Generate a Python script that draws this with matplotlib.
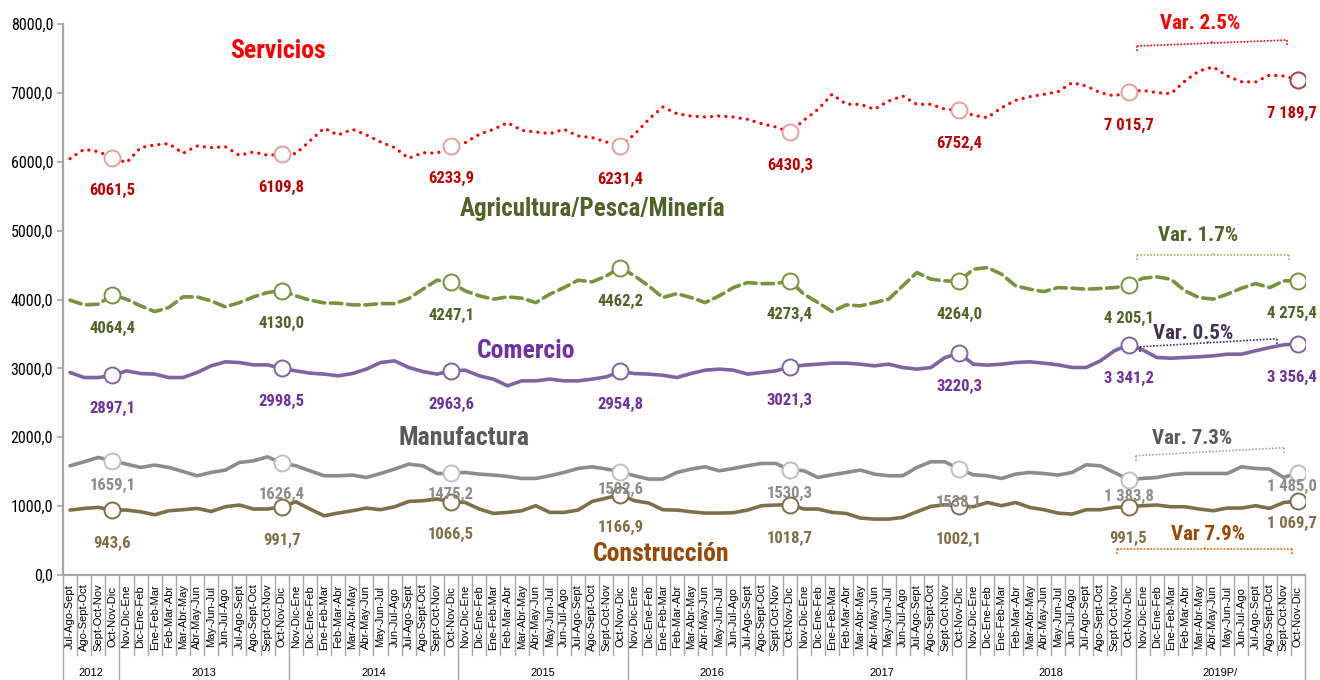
import matplotlib
matplotlib.use("Agg")
import matplotlib.pyplot as plt
from matplotlib.transforms import blended_transform_factory

NARROW = ["Roboto Condensed", "Liberation Sans", "DejaVu Sans"]
plt.rcParams["font.family"] = NARROW

# ---- data -------------------------------------------------------------
years = ["2012", "2013", "2014", "2015", "2016", "2017", "2018", "2019P/"]
year_sizes = [4, 12, 12, 12, 12, 12, 12, 12]
quarter_cycle = ["Nov-Dic-Ene", "Dic-Ene-Feb", "Ene-Feb-Mar", "Feb-Mar-Abr",
                 "Mar-Abr-May", "Abr-May-Jun", "May-Jun-Jul", "Jun-Jul-Ago",
                 "Jul-Ago-Sept", "Ago-Sept-Oct", "Sept-Oct-Nov", "Oct-Nov-Dic"]
periods = quarter_cycle[8:] + quarter_cycle * 7

servicios = [6045, 6181, 6147, 6061.5, 5987, 6205, 6244, 6263, 6123, 6229, 6205, 6219,
             6094, 6142, 6094, 6109.8, 6118, 6302, 6486, 6389, 6471, 6389, 6287, 6205,
             6051, 6132, 6123, 6233.9, 6277, 6399, 6471, 6567, 6457, 6432, 6408, 6471,
             6374, 6350, 6287, 6231.4, 6399, 6616, 6795, 6698, 6664, 6650, 6664, 6650,
             6616, 6553, 6505, 6430.3, 6602, 6762, 6979, 6834, 6834, 6762, 6882, 6955,
             6834, 6834, 6762, 6752.4, 6675, 6640, 6785, 6892, 6945, 6979, 7017, 7148,
             7100, 7003, 6955, 7015.7, 7037, 7003, 6988, 7172, 7318, 7376, 7245, 7162,
             7158, 7260, 7245, 7189.7]
agricultura = [3990, 3922, 3932, 4064.4, 4005, 3908, 3825, 3883, 4038, 4038, 3980, 3893,
               3955, 4038, 4101, 4130.0, 4053, 3990, 3951, 3946, 3922, 3922, 3941, 3941,
               4014, 4150, 4280, 4247.1, 4125, 4053, 4005, 4038, 4019, 3955, 4077, 4173,
               4280, 4256, 4343, 4462.2, 4343, 4198, 4028, 4086, 4028, 3955, 4053, 4173,
               4246, 4231, 4231, 4273.4, 4077, 3955, 3825, 3922, 3908, 3955, 4005, 4198,
               4391, 4295, 4270, 4264.0, 4440, 4463, 4368, 4198, 4150, 4115, 4173, 4164,
               4150, 4160, 4173, 4205.1, 4309, 4328, 4295, 4125, 4028, 4005, 4077, 4164,
               4231, 4173, 4270, 4275.4]
comercio = [2940, 2867, 2867, 2897.1, 2964, 2925, 2917, 2867, 2867, 2940, 3037, 3095,
            3085, 3051, 3051, 2998.5, 2964, 2931, 2917, 2892, 2925, 2989, 3085, 3109,
            3013, 2954, 2917, 2963.6, 2974, 2892, 2844, 2747, 2819, 2819, 2844, 2819,
            2819, 2844, 2877, 2954.8, 2925, 2917, 2900, 2867, 2925, 2974, 2989, 2974,
            2917, 2940, 2964, 3021.3, 3047, 3061, 3076, 3076, 3061, 3037, 3061, 3013,
            2989, 3013, 3158, 3220.3, 3061, 3047, 3061, 3085, 3095, 3076, 3051, 3013,
            3013, 3109, 3255, 3341.2, 3270, 3158, 3148, 3158, 3168, 3182, 3206, 3206,
            3255, 3303, 3342, 3356.4]
manufactura = [1586, 1644, 1707, 1659.1, 1610, 1562, 1596, 1562, 1503, 1441, 1489, 1523,
               1634, 1658, 1716, 1626.4, 1586, 1513, 1441, 1441, 1451, 1416, 1474, 1538,
               1610, 1586, 1474, 1475.2, 1489, 1465, 1451, 1431, 1402, 1402, 1441, 1489,
               1547, 1571, 1538, 1502.6, 1441, 1393, 1393, 1489, 1538, 1571, 1513, 1547,
               1586, 1620, 1620, 1530.3, 1513, 1416, 1455, 1489, 1523, 1465, 1441, 1441,
               1562, 1644, 1644, 1538.1, 1455, 1441, 1402, 1465, 1489, 1474, 1451, 1489,
               1600, 1586, 1489, 1383.8, 1402, 1416, 1455, 1474, 1474, 1474, 1474, 1571,
               1547, 1538, 1416, 1485.0]
construccion = [943, 967, 981, 943.6, 943, 918, 875, 933, 948, 967, 923, 991,
                1016, 958, 958, 991.7, 1063, 958, 860, 899, 933, 972, 948, 991,
                1068, 1078, 1103, 1066.5, 1053, 958, 894, 909, 933, 1006, 909, 909,
                943, 1068, 1117, 1166.9, 1078, 1045, 948, 943, 918, 899, 899, 904,
                943, 1006, 1016, 1018.7, 958, 958, 909, 894, 827, 812, 812, 836,
                918, 996, 1020, 1002.1, 991, 1053, 1006, 1053, 981, 948, 899, 884,
                948, 948, 981, 991.5, 1006, 1016, 991, 991, 958, 933, 972, 972,
                1006, 967, 1053, 1069.7]

serv_labels = ["6061,5", "6109,8", "6233,9", "6231,4", "6430,3", "6752,4", "7 015,7", "7 189,7"]
agri_labels = ["4064,4", "4130,0", "4247,1", "4462,2", "4273,4", "4264,0", "4 205,1", "4 275,4"]
com_labels = ["2897,1", "2998,5", "2963,6", "2954,8", "3021,3", "3220,3", "3 341,2", "3 356,4"]
man_labels = ["1659,1", "1626,4", "1475,2", "1502,6", "1530,3", "1538,1", "1 383,8", "1 485,0"]
cons_labels = ["943,6", "991,7", "1066,5", "1166,9", "1018,7", "1002,1", "991,5", "1 069,7"]

# ---- styling ----------------------------------------------------------
marks = list(range(3, len(periods), 12))
x = list(range(len(periods)))

fig = plt.figure(figsize=(13.2, 6.8), dpi=100)
ax = fig.add_axes([0.0477, 0.1544, 0.9409, 0.8103])
ax.set_xlim(-0.5, len(periods) - 0.5)
ax.set_ylim(0, 8000)


def draw_series(vals, labels, color, ls, lw, mec, lcolor, label_dy=None, last_mec=None):
    ax.plot(x, vals, color=color, ls=ls, lw=lw, dash_capstyle="round",
            solid_capstyle="round", zorder=3)
    ax.plot([x[i] for i in marks], [vals[i] for i in marks], ls="none", marker="o",
            ms=11.5, mfc="white", mec=mec, mew=1.4, zorder=4)
    if last_mec:
        ax.plot([x[marks[-1]]], [vals[marks[-1]]], ls="none", marker="o", ms=11.5,
                mfc="white", mec=last_mec, mew=1.4, zorder=5)
    for k, (i, txt) in enumerate(zip(marks, labels)):
        dy = -24 if label_dy is None else label_dy[k]
        dx = -4 if i == marks[-1] else 0
        ax.annotate(txt, (x[i], vals[i]), xytext=(dx, dy), textcoords="offset points",
                    ha="center", va="center", fontsize=12, fontweight="bold",
                    color=lcolor, zorder=6)


draw_series(servicios, serv_labels, "#FF0000", (0, (0.05, 2.2)), 2.3, "#E3A09E", "#C00000",
            last_mec="#B24545")
draw_series(agricultura, agri_labels, "#77933C", (0, (3.2, 1.6)), 2.6, "#77933C", "#4F6228")
draw_series(comercio, com_labels, "#8064A2", "-", 2.6, "#8064A2", "#7030A0")
draw_series(manufactura, man_labels, "#8C8C8C", "-", 2.6, "#BFBFBF", "#8C8C8C",
            label_dy=[-18, -23, -15, -13, -17, -24, -12, -10])
draw_series(construccion, cons_labels, "#7F6F47", "-", 2.6, "#7F6F47", "#7F6F47",
            label_dy=[-24, -24, -24, -24, -24, -24, -23, -16])

# sector titles
title_kw = dict(ha="center", va="center", fontweight="bold", zorder=7)
ax.text(14.7, 7608, "Servicios", color="#FF0000", fontsize=18.5, **title_kw)
ax.text(37.0, 5312, "Agricultura/Pesca/Minería", color="#4F6228", fontsize=18, **title_kw)
ax.text(32.3, 3254, "Comercio", color="#7030A0", fontsize=18.5, **title_kw)
ax.text(27.9, 1992, "Manufactura", color="#595959", fontsize=18.5, **title_kw)
ax.text(41.9, 309, "Construcción", color="#984807", fontsize=18.5, **title_kw)


# variation brackets
def var_bracket(x0, x1, y0, y1, tick, text, tx, ty, tcolor, bcolor):
    kw = dict(color=bcolor, lw=1.2, ls=(0, (1, 1)), zorder=6, clip_on=False)
    ax.plot([x0, x1], [y0, y1], **kw)
    ax.plot([x0, x0], [y0, y0 - tick], **kw)
    ax.plot([x1, x1], [y1, y1 - tick], **kw)
    xm = (x0 + x1) / 2
    ym = (y0 + y1) / 2
    ax.plot([xm, xm], [ym, ym + tick / 2], **kw)
    ax.text(tx, ty, text, ha="center", va="center", fontsize=15, fontweight="bold",
            color=tcolor, zorder=7, clip_on=False)


var_bracket(75.6, 86.2, 7680, 7767, 80, "Var. 2.5%", 80.1, 8010, "#FF0000", "#FF0000")
var_bracket(75.6, 86.4, 4648, 4648, 85, "Var. 1.7%", 79.9, 4923, "#4F6228", "#9BBB59")
var_bracket(75.8, 85.5, 3313, 3430, 70, "Var. 0.5%", 79.6, 3502, "#403151", "#403151")
var_bracket(75.5, 86.0, 1732, 1848, 75, "Var. 7.3%", 79.5, 1978, "#595959", "#A6A6A6")
var_bracket(74.2, 86.6, 382, 382, 75, "Var 7.9%", 80.6, 585, "#984807", "#E46C0A")

# axes
for side in ("top", "right"):
    ax.spines[side].set_visible(False)
ax.spines["left"].set_color("#A6A6A6")
ax.spines["left"].set_linewidth(1.6)
ax.spines["bottom"].set_color("#A6A6A6")
ax.spines["bottom"].set_linewidth(1.6)

yt = list(range(0, 8001, 1000))
ax.set_yticks(yt)
ax.set_yticklabels([f"{v:.1f}".replace(".", ",") for v in yt], fontsize=11.5)
ax.tick_params(axis="y", direction="out", length=4, width=1.2, color="#A6A6A6", pad=3)

ax.set_xticks(x)
ax.set_xticklabels(periods, rotation=90, fontsize=8, family=["Liberation Sans", "DejaVu Sans"])
ax.tick_params(axis="x", length=0, pad=30)
for lbl in ax.get_xticklabels():
    lbl.set_va("center")

trans = blended_transform_factory(ax.transData, ax.transAxes)
year_edges = [-0.5]
for n in year_sizes:
    year_edges.append(year_edges[-1] + n)
for b in range(len(periods) + 1):
    xb = b - 0.5
    low = -0.2 if xb in year_edges else -0.145
    ax.plot([xb, xb], [0, low], transform=trans, color="#A6A6A6", lw=1.0, clip_on=False)
for yr, a, b in zip(years, year_edges[:-1], year_edges[1:]):
    ax.text((a + b) / 2, -0.178, yr, transform=trans, ha="center", va="center",
            fontsize=8, family=["Liberation Sans", "DejaVu Sans"])

fig.savefig("out.png", dpi=100)
